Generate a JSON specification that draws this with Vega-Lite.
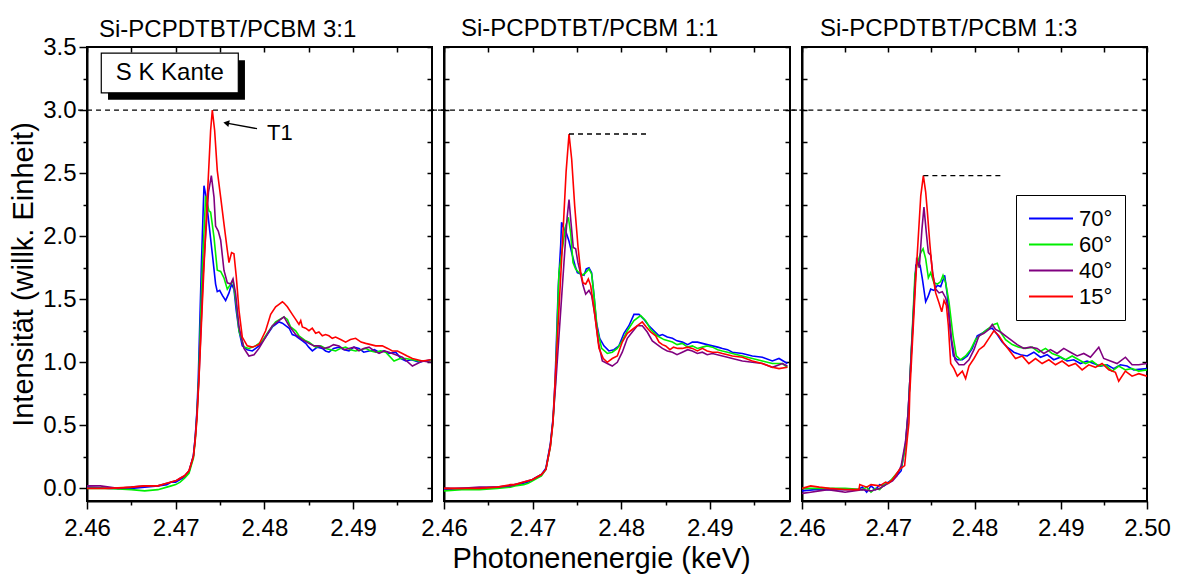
{
"$schema":"https://vega.github.io/schema/vega-lite/v6.json",
"background":"white",
"padding":{"left":8,"top":16,"right":5,"bottom":0},
"config":{
 "font":"Liberation Sans",
 "view":{"stroke":"black","strokeWidth":2},
 "axis":{"domainColor":"black","domainWidth":2,"tickColor":"black","tickWidth":1.5,"labelColor":"black","labelFontSize":24,"labelFont":"Liberation Sans","titleFont":"Liberation Sans","titleFontSize":29,"titleFontWeight":"normal","titleColor":"black","grid":false,"labelFlush":false,"labelOverlap":false,"labelPadding":7},
 "title":{"fontSize":24,"fontWeight":"normal","color":"black","font":"Liberation Sans","anchor":"start","frame":"group","offset":5}
},
"datasets":{
"refs":[
{"p":1,"x1":2.45899,"x2":2.50025,"y":3.0},
{"p":2,"x1":2.45865,"x2":2.50041,"y":3.0},
{"p":2,"x1":2.47411,"x2":2.48291,"y":2.81},
{"p":3,"x1":2.45865,"x2":2.5,"y":3.0},
{"p":3,"x1":2.47407,"x2":2.48322,"y":2.48}
],
"d":[
{"p":1,"s":"70°","x":2.46,"y":0.01},{"p":1,"s":"70°","x":2.4625,"y":0.0},{"p":1,"s":"70°","x":2.465,"y":0.0},{"p":1,"s":"70°","x":2.4665,"y":0.01},{"p":1,"s":"70°","x":2.468,"y":0.02},{"p":1,"s":"70°","x":2.469,"y":0.03},{"p":1,"s":"70°","x":2.4695,"y":0.05},{"p":1,"s":"70°","x":2.47,"y":0.05},{"p":1,"s":"70°","x":2.4705,"y":0.07},{"p":1,"s":"70°","x":2.471,"y":0.09},{"p":1,"s":"70°","x":2.4715,"y":0.13},{"p":1,"s":"70°","x":2.472,"y":0.26},{"p":1,"s":"70°","x":2.4722,"y":0.4},{"p":1,"s":"70°","x":2.4724,"y":0.62},{"p":1,"s":"70°","x":2.47255,"y":0.88},{"p":1,"s":"70°","x":2.4729,"y":1.78},{"p":1,"s":"70°","x":2.47319,"y":2.4},{"p":1,"s":"70°","x":2.47338,"y":2.33},{"p":1,"s":"70°","x":2.47375,"y":2.1},{"p":1,"s":"70°","x":2.47413,"y":1.86},{"p":1,"s":"70°","x":2.4745,"y":1.62},{"p":1,"s":"70°","x":2.47469,"y":1.56},{"p":1,"s":"70°","x":2.47496,"y":1.57},{"p":1,"s":"70°","x":2.47526,"y":1.53},{"p":1,"s":"70°","x":2.47563,"y":1.49},{"p":1,"s":"70°","x":2.47601,"y":1.55},{"p":1,"s":"70°","x":2.4763,"y":1.62},{"p":1,"s":"70°","x":2.47657,"y":1.58},{"p":1,"s":"70°","x":2.47683,"y":1.41},{"p":1,"s":"70°","x":2.47714,"y":1.25},{"p":1,"s":"70°","x":2.47751,"y":1.13},{"p":1,"s":"70°","x":2.47807,"y":1.1},{"p":1,"s":"70°","x":2.47864,"y":1.09},{"p":1,"s":"70°","x":2.47939,"y":1.13},{"p":1,"s":"70°","x":2.48014,"y":1.2},{"p":1,"s":"70°","x":2.4809,"y":1.28},{"p":1,"s":"70°","x":2.48165,"y":1.32},{"p":1,"s":"70°","x":2.48203,"y":1.31},{"p":1,"s":"70°","x":2.4824,"y":1.29},{"p":1,"s":"70°","x":2.4828,"y":1.27},{"p":1,"s":"70°","x":2.48315,"y":1.22},{"p":1,"s":"70°","x":2.48353,"y":1.21},{"p":1,"s":"70°","x":2.4839,"y":1.19},{"p":1,"s":"70°","x":2.4843,"y":1.17},{"p":1,"s":"70°","x":2.48466,"y":1.15},{"p":1,"s":"70°","x":2.485,"y":1.12},{"p":1,"s":"70°","x":2.48541,"y":1.09},{"p":1,"s":"70°","x":2.48597,"y":1.12},{"p":1,"s":"70°","x":2.48653,"y":1.11},{"p":1,"s":"70°","x":2.4869,"y":1.09},{"p":1,"s":"70°","x":2.48728,"y":1.08},{"p":1,"s":"70°","x":2.4878,"y":1.11},{"p":1,"s":"70°","x":2.48841,"y":1.12},{"p":1,"s":"70°","x":2.489,"y":1.1},{"p":1,"s":"70°","x":2.48954,"y":1.09},{"p":1,"s":"70°","x":2.4901,"y":1.12},{"p":1,"s":"70°","x":2.49067,"y":1.11},{"p":1,"s":"70°","x":2.4912,"y":1.08},{"p":1,"s":"70°","x":2.4918,"y":1.09},{"p":1,"s":"70°","x":2.4924,"y":1.1},{"p":1,"s":"70°","x":2.49293,"y":1.08},{"p":1,"s":"70°","x":2.4935,"y":1.09},{"p":1,"s":"70°","x":2.49406,"y":1.07},{"p":1,"s":"70°","x":2.49481,"y":1.08},{"p":1,"s":"70°","x":2.4954,"y":1.03},{"p":1,"s":"70°","x":2.49594,"y":1.01},{"p":1,"s":"70°","x":2.4966,"y":1.02},{"p":1,"s":"70°","x":2.49744,"y":1.0},{"p":1,"s":"70°","x":2.49876,"y":1.02},
{"p":1,"s":"60°","x":2.46,"y":0.0},{"p":1,"s":"60°","x":2.4625,"y":0.0},{"p":1,"s":"60°","x":2.465,"y":-0.01},{"p":1,"s":"60°","x":2.4665,"y":-0.02},{"p":1,"s":"60°","x":2.468,"y":-0.01},{"p":1,"s":"60°","x":2.469,"y":0.01},{"p":1,"s":"60°","x":2.4695,"y":0.02},{"p":1,"s":"60°","x":2.47,"y":0.03},{"p":1,"s":"60°","x":2.4705,"y":0.05},{"p":1,"s":"60°","x":2.471,"y":0.08},{"p":1,"s":"60°","x":2.4715,"y":0.12},{"p":1,"s":"60°","x":2.472,"y":0.24},{"p":1,"s":"60°","x":2.4722,"y":0.38},{"p":1,"s":"60°","x":2.4724,"y":0.58},{"p":1,"s":"60°","x":2.47258,"y":0.85},{"p":1,"s":"60°","x":2.473,"y":1.75},{"p":1,"s":"60°","x":2.47338,"y":2.32},{"p":1,"s":"60°","x":2.47375,"y":2.2},{"p":1,"s":"60°","x":2.47394,"y":2.19},{"p":1,"s":"60°","x":2.47432,"y":1.99},{"p":1,"s":"60°","x":2.47469,"y":1.73},{"p":1,"s":"60°","x":2.47507,"y":1.72},{"p":1,"s":"60°","x":2.47544,"y":1.67},{"p":1,"s":"60°","x":2.47582,"y":1.58},{"p":1,"s":"60°","x":2.4762,"y":1.62},{"p":1,"s":"60°","x":2.47646,"y":1.65},{"p":1,"s":"60°","x":2.47683,"y":1.46},{"p":1,"s":"60°","x":2.47714,"y":1.25},{"p":1,"s":"60°","x":2.4777,"y":1.12},{"p":1,"s":"60°","x":2.47826,"y":1.11},{"p":1,"s":"60°","x":2.47901,"y":1.13},{"p":1,"s":"60°","x":2.47977,"y":1.17},{"p":1,"s":"60°","x":2.48052,"y":1.25},{"p":1,"s":"60°","x":2.48127,"y":1.32},{"p":1,"s":"60°","x":2.48221,"y":1.36},{"p":1,"s":"60°","x":2.4826,"y":1.34},{"p":1,"s":"60°","x":2.48296,"y":1.28},{"p":1,"s":"60°","x":2.48353,"y":1.25},{"p":1,"s":"60°","x":2.4839,"y":1.21},{"p":1,"s":"60°","x":2.48466,"y":1.17},{"p":1,"s":"60°","x":2.48503,"y":1.16},{"p":1,"s":"60°","x":2.48578,"y":1.12},{"p":1,"s":"60°","x":2.48635,"y":1.13},{"p":1,"s":"60°","x":2.48691,"y":1.11},{"p":1,"s":"60°","x":2.4875,"y":1.1},{"p":1,"s":"60°","x":2.48803,"y":1.09},{"p":1,"s":"60°","x":2.4886,"y":1.11},{"p":1,"s":"60°","x":2.48916,"y":1.12},{"p":1,"s":"60°","x":2.4897,"y":1.1},{"p":1,"s":"60°","x":2.49029,"y":1.09},{"p":1,"s":"60°","x":2.4909,"y":1.1},{"p":1,"s":"60°","x":2.49142,"y":1.11},{"p":1,"s":"60°","x":2.492,"y":1.09},{"p":1,"s":"60°","x":2.49255,"y":1.08},{"p":1,"s":"60°","x":2.4931,"y":1.09},{"p":1,"s":"60°","x":2.49368,"y":1.08},{"p":1,"s":"60°","x":2.49462,"y":1.01},{"p":1,"s":"60°","x":2.4953,"y":1.03},{"p":1,"s":"60°","x":2.49594,"y":1.03},{"p":1,"s":"60°","x":2.4967,"y":1.02},{"p":1,"s":"60°","x":2.49744,"y":1.01},{"p":1,"s":"60°","x":2.49876,"y":1.01},
{"p":1,"s":"40°","x":2.46,"y":0.02},{"p":1,"s":"40°","x":2.4615,"y":0.02},{"p":1,"s":"40°","x":2.4635,"y":0.0},{"p":1,"s":"40°","x":2.465,"y":0.01},{"p":1,"s":"40°","x":2.4665,"y":0.02},{"p":1,"s":"40°","x":2.468,"y":0.02},{"p":1,"s":"40°","x":2.469,"y":0.04},{"p":1,"s":"40°","x":2.4695,"y":0.05},{"p":1,"s":"40°","x":2.47,"y":0.06},{"p":1,"s":"40°","x":2.4705,"y":0.08},{"p":1,"s":"40°","x":2.471,"y":0.1},{"p":1,"s":"40°","x":2.4715,"y":0.14},{"p":1,"s":"40°","x":2.472,"y":0.26},{"p":1,"s":"40°","x":2.4722,"y":0.4},{"p":1,"s":"40°","x":2.4724,"y":0.6},{"p":1,"s":"40°","x":2.47262,"y":0.87},{"p":1,"s":"40°","x":2.4731,"y":1.7},{"p":1,"s":"40°","x":2.4737,"y":2.35},{"p":1,"s":"40°","x":2.47402,"y":2.48},{"p":1,"s":"40°","x":2.47432,"y":2.31},{"p":1,"s":"40°","x":2.4745,"y":2.08},{"p":1,"s":"40°","x":2.4748,"y":2.04},{"p":1,"s":"40°","x":2.47507,"y":1.97},{"p":1,"s":"40°","x":2.47544,"y":1.73},{"p":1,"s":"40°","x":2.47582,"y":1.63},{"p":1,"s":"40°","x":2.4762,"y":1.62},{"p":1,"s":"40°","x":2.47646,"y":1.66},{"p":1,"s":"40°","x":2.47676,"y":1.54},{"p":1,"s":"40°","x":2.47714,"y":1.28},{"p":1,"s":"40°","x":2.4777,"y":1.11},{"p":1,"s":"40°","x":2.47826,"y":1.05},{"p":1,"s":"40°","x":2.47883,"y":1.06},{"p":1,"s":"40°","x":2.47939,"y":1.11},{"p":1,"s":"40°","x":2.48014,"y":1.2},{"p":1,"s":"40°","x":2.4809,"y":1.29},{"p":1,"s":"40°","x":2.48165,"y":1.33},{"p":1,"s":"40°","x":2.48221,"y":1.36},{"p":1,"s":"40°","x":2.48278,"y":1.29},{"p":1,"s":"40°","x":2.48353,"y":1.22},{"p":1,"s":"40°","x":2.4839,"y":1.2},{"p":1,"s":"40°","x":2.48428,"y":1.18},{"p":1,"s":"40°","x":2.48503,"y":1.15},{"p":1,"s":"40°","x":2.4856,"y":1.13},{"p":1,"s":"40°","x":2.48616,"y":1.13},{"p":1,"s":"40°","x":2.4867,"y":1.11},{"p":1,"s":"40°","x":2.48728,"y":1.12},{"p":1,"s":"40°","x":2.4878,"y":1.14},{"p":1,"s":"40°","x":2.48841,"y":1.13},{"p":1,"s":"40°","x":2.489,"y":1.1},{"p":1,"s":"40°","x":2.48954,"y":1.11},{"p":1,"s":"40°","x":2.4901,"y":1.12},{"p":1,"s":"40°","x":2.49067,"y":1.09},{"p":1,"s":"40°","x":2.4912,"y":1.11},{"p":1,"s":"40°","x":2.4918,"y":1.12},{"p":1,"s":"40°","x":2.4924,"y":1.09},{"p":1,"s":"40°","x":2.49293,"y":1.07},{"p":1,"s":"40°","x":2.4935,"y":1.09},{"p":1,"s":"40°","x":2.49406,"y":1.08},{"p":1,"s":"40°","x":2.4948,"y":1.06},{"p":1,"s":"40°","x":2.49556,"y":1.04},{"p":1,"s":"40°","x":2.49669,"y":0.97},{"p":1,"s":"40°","x":2.49782,"y":1.01},{"p":1,"s":"40°","x":2.49876,"y":1.0},
{"p":1,"s":"15°","x":2.46,"y":0.0},{"p":1,"s":"15°","x":2.4625,"y":0.0},{"p":1,"s":"15°","x":2.465,"y":0.01},{"p":1,"s":"15°","x":2.4665,"y":0.02},{"p":1,"s":"15°","x":2.468,"y":0.02},{"p":1,"s":"15°","x":2.469,"y":0.04},{"p":1,"s":"15°","x":2.4695,"y":0.05},{"p":1,"s":"15°","x":2.47,"y":0.06},{"p":1,"s":"15°","x":2.4705,"y":0.08},{"p":1,"s":"15°","x":2.471,"y":0.1},{"p":1,"s":"15°","x":2.4715,"y":0.14},{"p":1,"s":"15°","x":2.472,"y":0.25},{"p":1,"s":"15°","x":2.4722,"y":0.38},{"p":1,"s":"15°","x":2.4724,"y":0.55},{"p":1,"s":"15°","x":2.47263,"y":0.88},{"p":1,"s":"15°","x":2.47331,"y":1.94},{"p":1,"s":"15°","x":2.47394,"y":2.84},{"p":1,"s":"15°","x":2.47413,"y":3.0},{"p":1,"s":"15°","x":2.47439,"y":2.84},{"p":1,"s":"15°","x":2.47469,"y":2.52},{"p":1,"s":"15°","x":2.47507,"y":2.31},{"p":1,"s":"15°","x":2.47544,"y":2.1},{"p":1,"s":"15°","x":2.47582,"y":1.89},{"p":1,"s":"15°","x":2.47601,"y":1.79},{"p":1,"s":"15°","x":2.4763,"y":1.87},{"p":1,"s":"15°","x":2.47657,"y":1.86},{"p":1,"s":"15°","x":2.47683,"y":1.68},{"p":1,"s":"15°","x":2.47714,"y":1.41},{"p":1,"s":"15°","x":2.47751,"y":1.2},{"p":1,"s":"15°","x":2.47807,"y":1.13},{"p":1,"s":"15°","x":2.47864,"y":1.12},{"p":1,"s":"15°","x":2.47939,"y":1.14},{"p":1,"s":"15°","x":2.48014,"y":1.25},{"p":1,"s":"15°","x":2.48071,"y":1.38},{"p":1,"s":"15°","x":2.48127,"y":1.44},{"p":1,"s":"15°","x":2.48165,"y":1.46},{"p":1,"s":"15°","x":2.48203,"y":1.48},{"p":1,"s":"15°","x":2.48221,"y":1.47},{"p":1,"s":"15°","x":2.48259,"y":1.44},{"p":1,"s":"15°","x":2.48315,"y":1.38},{"p":1,"s":"15°","x":2.48353,"y":1.34},{"p":1,"s":"15°","x":2.4839,"y":1.3},{"p":1,"s":"15°","x":2.4841,"y":1.33},{"p":1,"s":"15°","x":2.48428,"y":1.28},{"p":1,"s":"15°","x":2.48465,"y":1.27},{"p":1,"s":"15°","x":2.48503,"y":1.25},{"p":1,"s":"15°","x":2.4854,"y":1.27},{"p":1,"s":"15°","x":2.48578,"y":1.23},{"p":1,"s":"15°","x":2.48615,"y":1.24},{"p":1,"s":"15°","x":2.48653,"y":1.21},{"p":1,"s":"15°","x":2.4869,"y":1.22},{"p":1,"s":"15°","x":2.48728,"y":1.21},{"p":1,"s":"15°","x":2.48765,"y":1.19},{"p":1,"s":"15°","x":2.48803,"y":1.2},{"p":1,"s":"15°","x":2.4886,"y":1.18},{"p":1,"s":"15°","x":2.48916,"y":1.16},{"p":1,"s":"15°","x":2.4897,"y":1.18},{"p":1,"s":"15°","x":2.49029,"y":1.19},{"p":1,"s":"15°","x":2.4909,"y":1.16},{"p":1,"s":"15°","x":2.49142,"y":1.15},{"p":1,"s":"15°","x":2.492,"y":1.14},{"p":1,"s":"15°","x":2.49255,"y":1.13},{"p":1,"s":"15°","x":2.4933,"y":1.13},{"p":1,"s":"15°","x":2.4939,"y":1.11},{"p":1,"s":"15°","x":2.49443,"y":1.09},{"p":1,"s":"15°","x":2.495,"y":1.09},{"p":1,"s":"15°","x":2.49556,"y":1.07},{"p":1,"s":"15°","x":2.4961,"y":1.05},{"p":1,"s":"15°","x":2.49669,"y":1.03},{"p":1,"s":"15°","x":2.49782,"y":1.01},{"p":1,"s":"15°","x":2.49876,"y":1.02},
{"p":2,"s":"70°","x":2.46,"y":-0.01},{"p":2,"s":"70°","x":2.462,"y":0.0},{"p":2,"s":"70°","x":2.464,"y":0.0},{"p":2,"s":"70°","x":2.466,"y":0.01},{"p":2,"s":"70°","x":2.4675,"y":0.02},{"p":2,"s":"70°","x":2.468,"y":0.03},{"p":2,"s":"70°","x":2.4685,"y":0.03},{"p":2,"s":"70°","x":2.469,"y":0.04},{"p":2,"s":"70°","x":2.4695,"y":0.05},{"p":2,"s":"70°","x":2.47,"y":0.07},{"p":2,"s":"70°","x":2.4705,"y":0.09},{"p":2,"s":"70°","x":2.471,"y":0.11},{"p":2,"s":"70°","x":2.4715,"y":0.16},{"p":2,"s":"70°","x":2.472,"y":0.35},{"p":2,"s":"70°","x":2.4723,"y":0.55},{"p":2,"s":"70°","x":2.47253,"y":0.84},{"p":2,"s":"70°","x":2.4729,"y":1.6},{"p":2,"s":"70°","x":2.47317,"y":1.93},{"p":2,"s":"70°","x":2.47327,"y":2.11},{"p":2,"s":"70°","x":2.47354,"y":2.06},{"p":2,"s":"70°","x":2.47378,"y":2.03},{"p":2,"s":"70°","x":2.47411,"y":1.96},{"p":2,"s":"70°","x":2.47448,"y":1.85},{"p":2,"s":"70°","x":2.47478,"y":1.77},{"p":2,"s":"70°","x":2.47505,"y":1.71},{"p":2,"s":"70°","x":2.47543,"y":1.7},{"p":2,"s":"70°","x":2.4758,"y":1.69},{"p":2,"s":"70°","x":2.47606,"y":1.74},{"p":2,"s":"70°","x":2.47636,"y":1.75},{"p":2,"s":"70°","x":2.47666,"y":1.71},{"p":2,"s":"70°","x":2.47693,"y":1.53},{"p":2,"s":"70°","x":2.47719,"y":1.32},{"p":2,"s":"70°","x":2.47757,"y":1.19},{"p":2,"s":"70°","x":2.47805,"y":1.13},{"p":2,"s":"70°","x":2.47861,"y":1.09},{"p":2,"s":"70°","x":2.47918,"y":1.1},{"p":2,"s":"70°","x":2.47974,"y":1.13},{"p":2,"s":"70°","x":2.48031,"y":1.23},{"p":2,"s":"70°","x":2.48087,"y":1.29},{"p":2,"s":"70°","x":2.48144,"y":1.38},{"p":2,"s":"70°","x":2.482,"y":1.38},{"p":2,"s":"70°","x":2.48257,"y":1.34},{"p":2,"s":"70°","x":2.48313,"y":1.29},{"p":2,"s":"70°","x":2.48369,"y":1.25},{"p":2,"s":"70°","x":2.48427,"y":1.21},{"p":2,"s":"70°","x":2.48465,"y":1.22},{"p":2,"s":"70°","x":2.4852,"y":1.2},{"p":2,"s":"70°","x":2.48578,"y":1.19},{"p":2,"s":"70°","x":2.4863,"y":1.17},{"p":2,"s":"70°","x":2.4869,"y":1.16},{"p":2,"s":"70°","x":2.4875,"y":1.14},{"p":2,"s":"70°","x":2.48803,"y":1.16},{"p":2,"s":"70°","x":2.4886,"y":1.16},{"p":2,"s":"70°","x":2.48916,"y":1.15},{"p":2,"s":"70°","x":2.4897,"y":1.14},{"p":2,"s":"70°","x":2.49029,"y":1.13},{"p":2,"s":"70°","x":2.4909,"y":1.12},{"p":2,"s":"70°","x":2.49142,"y":1.11},{"p":2,"s":"70°","x":2.492,"y":1.1},{"p":2,"s":"70°","x":2.49254,"y":1.08},{"p":2,"s":"70°","x":2.49367,"y":1.07},{"p":2,"s":"70°","x":2.4948,"y":1.05},{"p":2,"s":"70°","x":2.49593,"y":1.04},{"p":2,"s":"70°","x":2.49706,"y":1.01},{"p":2,"s":"70°","x":2.49781,"y":1.03},{"p":2,"s":"70°","x":2.49876,"y":0.99},
{"p":2,"s":"60°","x":2.46,"y":-0.02},{"p":2,"s":"60°","x":2.462,"y":-0.01},{"p":2,"s":"60°","x":2.464,"y":-0.01},{"p":2,"s":"60°","x":2.466,"y":0.0},{"p":2,"s":"60°","x":2.4675,"y":0.01},{"p":2,"s":"60°","x":2.468,"y":0.02},{"p":2,"s":"60°","x":2.469,"y":0.03},{"p":2,"s":"60°","x":2.4695,"y":0.04},{"p":2,"s":"60°","x":2.47,"y":0.06},{"p":2,"s":"60°","x":2.4705,"y":0.08},{"p":2,"s":"60°","x":2.471,"y":0.1},{"p":2,"s":"60°","x":2.4715,"y":0.15},{"p":2,"s":"60°","x":2.472,"y":0.33},{"p":2,"s":"60°","x":2.4723,"y":0.53},{"p":2,"s":"60°","x":2.47258,"y":0.84},{"p":2,"s":"60°","x":2.47297,"y":1.71},{"p":2,"s":"60°","x":2.47373,"y":2.08},{"p":2,"s":"60°","x":2.47403,"y":2.15},{"p":2,"s":"60°","x":2.47429,"y":2.03},{"p":2,"s":"60°","x":2.47456,"y":1.79},{"p":2,"s":"60°","x":2.47486,"y":1.74},{"p":2,"s":"60°","x":2.47524,"y":1.71},{"p":2,"s":"60°","x":2.47561,"y":1.69},{"p":2,"s":"60°","x":2.47599,"y":1.71},{"p":2,"s":"60°","x":2.47636,"y":1.74},{"p":2,"s":"60°","x":2.47666,"y":1.7},{"p":2,"s":"60°","x":2.47693,"y":1.53},{"p":2,"s":"60°","x":2.4773,"y":1.26},{"p":2,"s":"60°","x":2.47779,"y":1.11},{"p":2,"s":"60°","x":2.47843,"y":1.07},{"p":2,"s":"60°","x":2.47899,"y":1.08},{"p":2,"s":"60°","x":2.47956,"y":1.11},{"p":2,"s":"60°","x":2.48012,"y":1.17},{"p":2,"s":"60°","x":2.48069,"y":1.25},{"p":2,"s":"60°","x":2.48144,"y":1.33},{"p":2,"s":"60°","x":2.48219,"y":1.37},{"p":2,"s":"60°","x":2.48276,"y":1.33},{"p":2,"s":"60°","x":2.48332,"y":1.26},{"p":2,"s":"60°","x":2.48407,"y":1.21},{"p":2,"s":"60°","x":2.48482,"y":1.18},{"p":2,"s":"60°","x":2.4853,"y":1.17},{"p":2,"s":"60°","x":2.48578,"y":1.16},{"p":2,"s":"60°","x":2.4863,"y":1.14},{"p":2,"s":"60°","x":2.4869,"y":1.15},{"p":2,"s":"60°","x":2.4875,"y":1.12},{"p":2,"s":"60°","x":2.48803,"y":1.13},{"p":2,"s":"60°","x":2.4886,"y":1.11},{"p":2,"s":"60°","x":2.48916,"y":1.12},{"p":2,"s":"60°","x":2.4897,"y":1.13},{"p":2,"s":"60°","x":2.49029,"y":1.12},{"p":2,"s":"60°","x":2.4909,"y":1.1},{"p":2,"s":"60°","x":2.49142,"y":1.09},{"p":2,"s":"60°","x":2.492,"y":1.08},{"p":2,"s":"60°","x":2.49254,"y":1.07},{"p":2,"s":"60°","x":2.4931,"y":1.06},{"p":2,"s":"60°","x":2.49367,"y":1.05},{"p":2,"s":"60°","x":2.4948,"y":1.03},{"p":2,"s":"60°","x":2.49593,"y":1.01},{"p":2,"s":"60°","x":2.49706,"y":0.99},{"p":2,"s":"60°","x":2.49819,"y":0.99},{"p":2,"s":"60°","x":2.49876,"y":0.96},
{"p":2,"s":"40°","x":2.46,"y":0.0},{"p":2,"s":"40°","x":2.462,"y":0.0},{"p":2,"s":"40°","x":2.464,"y":0.01},{"p":2,"s":"40°","x":2.466,"y":0.01},{"p":2,"s":"40°","x":2.4675,"y":0.02},{"p":2,"s":"40°","x":2.468,"y":0.03},{"p":2,"s":"40°","x":2.469,"y":0.05},{"p":2,"s":"40°","x":2.4695,"y":0.06},{"p":2,"s":"40°","x":2.47,"y":0.07},{"p":2,"s":"40°","x":2.4705,"y":0.09},{"p":2,"s":"40°","x":2.471,"y":0.11},{"p":2,"s":"40°","x":2.4715,"y":0.15},{"p":2,"s":"40°","x":2.472,"y":0.34},{"p":2,"s":"40°","x":2.4723,"y":0.54},{"p":2,"s":"40°","x":2.47262,"y":0.84},{"p":2,"s":"40°","x":2.47354,"y":1.79},{"p":2,"s":"40°","x":2.4739,"y":2.15},{"p":2,"s":"40°","x":2.47411,"y":2.29},{"p":2,"s":"40°","x":2.47433,"y":2.11},{"p":2,"s":"40°","x":2.47459,"y":1.91},{"p":2,"s":"40°","x":2.47486,"y":1.9},{"p":2,"s":"40°","x":2.47512,"y":1.79},{"p":2,"s":"40°","x":2.47543,"y":1.7},{"p":2,"s":"40°","x":2.47569,"y":1.61},{"p":2,"s":"40°","x":2.47599,"y":1.54},{"p":2,"s":"40°","x":2.47636,"y":1.57},{"p":2,"s":"40°","x":2.47666,"y":1.53},{"p":2,"s":"40°","x":2.47704,"y":1.37},{"p":2,"s":"40°","x":2.47742,"y":1.16},{"p":2,"s":"40°","x":2.47787,"y":1.01},{"p":2,"s":"40°","x":2.47843,"y":0.99},{"p":2,"s":"40°","x":2.47899,"y":0.97},{"p":2,"s":"40°","x":2.47956,"y":1.0},{"p":2,"s":"40°","x":2.48012,"y":1.08},{"p":2,"s":"40°","x":2.48069,"y":1.19},{"p":2,"s":"40°","x":2.48125,"y":1.24},{"p":2,"s":"40°","x":2.48182,"y":1.29},{"p":2,"s":"40°","x":2.48238,"y":1.29},{"p":2,"s":"40°","x":2.48294,"y":1.24},{"p":2,"s":"40°","x":2.48351,"y":1.17},{"p":2,"s":"40°","x":2.48426,"y":1.13},{"p":2,"s":"40°","x":2.48465,"y":1.11},{"p":2,"s":"40°","x":2.4852,"y":1.09},{"p":2,"s":"40°","x":2.48578,"y":1.08},{"p":2,"s":"40°","x":2.4863,"y":1.06},{"p":2,"s":"40°","x":2.4869,"y":1.08},{"p":2,"s":"40°","x":2.4875,"y":1.1},{"p":2,"s":"40°","x":2.48803,"y":1.09},{"p":2,"s":"40°","x":2.4886,"y":1.07},{"p":2,"s":"40°","x":2.48916,"y":1.08},{"p":2,"s":"40°","x":2.4897,"y":1.06},{"p":2,"s":"40°","x":2.49029,"y":1.07},{"p":2,"s":"40°","x":2.49142,"y":1.05},{"p":2,"s":"40°","x":2.492,"y":1.04},{"p":2,"s":"40°","x":2.49254,"y":1.03},{"p":2,"s":"40°","x":2.49367,"y":1.01},{"p":2,"s":"40°","x":2.4948,"y":1.0},{"p":2,"s":"40°","x":2.49593,"y":0.99},{"p":2,"s":"40°","x":2.49706,"y":0.96},{"p":2,"s":"40°","x":2.49819,"y":0.99},{"p":2,"s":"40°","x":2.49876,"y":0.97},
{"p":2,"s":"15°","x":2.46,"y":0.0},{"p":2,"s":"15°","x":2.462,"y":0.0},{"p":2,"s":"15°","x":2.464,"y":0.0},{"p":2,"s":"15°","x":2.466,"y":0.01},{"p":2,"s":"15°","x":2.4675,"y":0.03},{"p":2,"s":"15°","x":2.468,"y":0.03},{"p":2,"s":"15°","x":2.469,"y":0.05},{"p":2,"s":"15°","x":2.4695,"y":0.06},{"p":2,"s":"15°","x":2.47,"y":0.07},{"p":2,"s":"15°","x":2.4705,"y":0.09},{"p":2,"s":"15°","x":2.471,"y":0.11},{"p":2,"s":"15°","x":2.4715,"y":0.15},{"p":2,"s":"15°","x":2.472,"y":0.33},{"p":2,"s":"15°","x":2.4723,"y":0.52},{"p":2,"s":"15°","x":2.47253,"y":0.84},{"p":2,"s":"15°","x":2.4733,"y":1.85},{"p":2,"s":"15°","x":2.47378,"y":2.51},{"p":2,"s":"15°","x":2.47411,"y":2.81},{"p":2,"s":"15°","x":2.47441,"y":2.61},{"p":2,"s":"15°","x":2.47475,"y":2.24},{"p":2,"s":"15°","x":2.47512,"y":1.92},{"p":2,"s":"15°","x":2.47543,"y":1.71},{"p":2,"s":"15°","x":2.47569,"y":1.63},{"p":2,"s":"15°","x":2.47599,"y":1.62},{"p":2,"s":"15°","x":2.47629,"y":1.66},{"p":2,"s":"15°","x":2.47655,"y":1.61},{"p":2,"s":"15°","x":2.47682,"y":1.48},{"p":2,"s":"15°","x":2.47712,"y":1.32},{"p":2,"s":"15°","x":2.47749,"y":1.11},{"p":2,"s":"15°","x":2.47798,"y":1.03},{"p":2,"s":"15°","x":2.47843,"y":1.0},{"p":2,"s":"15°","x":2.47899,"y":1.03},{"p":2,"s":"15°","x":2.47956,"y":1.05},{"p":2,"s":"15°","x":2.48012,"y":1.16},{"p":2,"s":"15°","x":2.48069,"y":1.23},{"p":2,"s":"15°","x":2.48125,"y":1.26},{"p":2,"s":"15°","x":2.48182,"y":1.29},{"p":2,"s":"15°","x":2.48238,"y":1.32},{"p":2,"s":"15°","x":2.48283,"y":1.28},{"p":2,"s":"15°","x":2.48332,"y":1.24},{"p":2,"s":"15°","x":2.48389,"y":1.21},{"p":2,"s":"15°","x":2.48427,"y":1.16},{"p":2,"s":"15°","x":2.48465,"y":1.14},{"p":2,"s":"15°","x":2.48502,"y":1.13},{"p":2,"s":"15°","x":2.4855,"y":1.1},{"p":2,"s":"15°","x":2.4859,"y":1.12},{"p":2,"s":"15°","x":2.4864,"y":1.11},{"p":2,"s":"15°","x":2.4869,"y":1.11},{"p":2,"s":"15°","x":2.4875,"y":1.12},{"p":2,"s":"15°","x":2.48803,"y":1.11},{"p":2,"s":"15°","x":2.4886,"y":1.09},{"p":2,"s":"15°","x":2.48916,"y":1.11},{"p":2,"s":"15°","x":2.4897,"y":1.09},{"p":2,"s":"15°","x":2.49029,"y":1.08},{"p":2,"s":"15°","x":2.4909,"y":1.08},{"p":2,"s":"15°","x":2.49142,"y":1.07},{"p":2,"s":"15°","x":2.492,"y":1.06},{"p":2,"s":"15°","x":2.49254,"y":1.05},{"p":2,"s":"15°","x":2.49367,"y":1.04},{"p":2,"s":"15°","x":2.4948,"y":1.01},{"p":2,"s":"15°","x":2.49593,"y":0.99},{"p":2,"s":"15°","x":2.49706,"y":0.96},{"p":2,"s":"15°","x":2.49781,"y":0.95},{"p":2,"s":"15°","x":2.49876,"y":0.96},
{"p":3,"s":"70°","x":2.46,"y":-0.02},{"p":3,"s":"70°","x":2.4615,"y":-0.01},{"p":3,"s":"70°","x":2.463,"y":-0.01},{"p":3,"s":"70°","x":2.465,"y":-0.01},{"p":3,"s":"70°","x":2.4665,"y":-0.01},{"p":3,"s":"70°","x":2.467,"y":0.01},{"p":3,"s":"70°","x":2.4675,"y":-0.03},{"p":3,"s":"70°","x":2.468,"y":0.02},{"p":3,"s":"70°","x":2.4685,"y":-0.01},{"p":3,"s":"70°","x":2.469,"y":0.03},{"p":3,"s":"70°","x":2.4695,"y":0.02},{"p":3,"s":"70°","x":2.47,"y":0.05},{"p":3,"s":"70°","x":2.4705,"y":0.07},{"p":3,"s":"70°","x":2.471,"y":0.1},{"p":3,"s":"70°","x":2.4715,"y":0.14},{"p":3,"s":"70°","x":2.472,"y":0.35},{"p":3,"s":"70°","x":2.4723,"y":0.6},{"p":3,"s":"70°","x":2.4725,"y":0.85},{"p":3,"s":"70°","x":2.4732,"y":1.77},{"p":3,"s":"70°","x":2.47338,"y":1.78},{"p":3,"s":"70°","x":2.47369,"y":1.77},{"p":3,"s":"70°","x":2.47396,"y":1.66},{"p":3,"s":"70°","x":2.47434,"y":1.48},{"p":3,"s":"70°","x":2.47461,"y":1.52},{"p":3,"s":"70°","x":2.47492,"y":1.58},{"p":3,"s":"70°","x":2.4753,"y":1.57},{"p":3,"s":"70°","x":2.47569,"y":1.61},{"p":3,"s":"70°","x":2.47608,"y":1.6},{"p":3,"s":"70°","x":2.47654,"y":1.69},{"p":3,"s":"70°","x":2.47685,"y":1.53},{"p":3,"s":"70°","x":2.47724,"y":1.21},{"p":3,"s":"70°","x":2.47755,"y":1.05},{"p":3,"s":"70°","x":2.47801,"y":1.02},{"p":3,"s":"70°","x":2.47859,"y":1.02},{"p":3,"s":"70°","x":2.47917,"y":1.05},{"p":3,"s":"70°","x":2.47974,"y":1.11},{"p":3,"s":"70°","x":2.48032,"y":1.21},{"p":3,"s":"70°","x":2.4809,"y":1.23},{"p":3,"s":"70°","x":2.48148,"y":1.26},{"p":3,"s":"70°","x":2.48206,"y":1.27},{"p":3,"s":"70°","x":2.48264,"y":1.22},{"p":3,"s":"70°","x":2.48321,"y":1.16},{"p":3,"s":"70°","x":2.48379,"y":1.12},{"p":3,"s":"70°","x":2.48456,"y":1.08},{"p":3,"s":"70°","x":2.48533,"y":1.06},{"p":3,"s":"70°","x":2.48611,"y":1.05},{"p":3,"s":"70°","x":2.48688,"y":1.08},{"p":3,"s":"70°","x":2.48765,"y":1.04},{"p":3,"s":"70°","x":2.48842,"y":1.06},{"p":3,"s":"70°","x":2.48919,"y":1.02},{"p":3,"s":"70°","x":2.48996,"y":1.04},{"p":3,"s":"70°","x":2.49074,"y":1.01},{"p":3,"s":"70°","x":2.49151,"y":1.02},{"p":3,"s":"70°","x":2.49228,"y":0.99},{"p":3,"s":"70°","x":2.49305,"y":1.01},{"p":3,"s":"70°","x":2.49382,"y":0.99},{"p":3,"s":"70°","x":2.49459,"y":0.97},{"p":3,"s":"70°","x":2.49537,"y":0.98},{"p":3,"s":"70°","x":2.49614,"y":0.95},{"p":3,"s":"70°","x":2.49691,"y":0.98},{"p":3,"s":"70°","x":2.49768,"y":0.97},{"p":3,"s":"70°","x":2.49846,"y":0.94},{"p":3,"s":"70°","x":2.5,"y":0.95},
{"p":3,"s":"60°","x":2.46,"y":0.0},{"p":3,"s":"60°","x":2.4615,"y":0.0},{"p":3,"s":"60°","x":2.463,"y":0.0},{"p":3,"s":"60°","x":2.465,"y":0.0},{"p":3,"s":"60°","x":2.467,"y":-0.01},{"p":3,"s":"60°","x":2.4675,"y":0.01},{"p":3,"s":"60°","x":2.468,"y":-0.03},{"p":3,"s":"60°","x":2.4685,"y":0.0},{"p":3,"s":"60°","x":2.469,"y":-0.01},{"p":3,"s":"60°","x":2.4695,"y":0.03},{"p":3,"s":"60°","x":2.47,"y":0.04},{"p":3,"s":"60°","x":2.4705,"y":0.08},{"p":3,"s":"60°","x":2.471,"y":0.12},{"p":3,"s":"60°","x":2.4715,"y":0.16},{"p":3,"s":"60°","x":2.472,"y":0.33},{"p":3,"s":"60°","x":2.4723,"y":0.58},{"p":3,"s":"60°","x":2.4725,"y":0.85},{"p":3,"s":"60°","x":2.4731,"y":1.7},{"p":3,"s":"60°","x":2.4734,"y":1.79},{"p":3,"s":"60°","x":2.47377,"y":1.87},{"p":3,"s":"60°","x":2.47404,"y":1.9},{"p":3,"s":"60°","x":2.47434,"y":1.82},{"p":3,"s":"60°","x":2.47465,"y":1.67},{"p":3,"s":"60°","x":2.47492,"y":1.71},{"p":3,"s":"60°","x":2.4753,"y":1.63},{"p":3,"s":"60°","x":2.47569,"y":1.62},{"p":3,"s":"60°","x":2.47608,"y":1.64},{"p":3,"s":"60°","x":2.47635,"y":1.69},{"p":3,"s":"60°","x":2.47666,"y":1.63},{"p":3,"s":"60°","x":2.47704,"y":1.48},{"p":3,"s":"60°","x":2.47751,"y":1.21},{"p":3,"s":"60°","x":2.47789,"y":1.05},{"p":3,"s":"60°","x":2.47839,"y":1.02},{"p":3,"s":"60°","x":2.47897,"y":1.05},{"p":3,"s":"60°","x":2.47955,"y":1.1},{"p":3,"s":"60°","x":2.48013,"y":1.18},{"p":3,"s":"60°","x":2.4809,"y":1.23},{"p":3,"s":"60°","x":2.48167,"y":1.27},{"p":3,"s":"60°","x":2.48225,"y":1.3},{"p":3,"s":"60°","x":2.48264,"y":1.31},{"p":3,"s":"60°","x":2.48302,"y":1.24},{"p":3,"s":"60°","x":2.4836,"y":1.18},{"p":3,"s":"60°","x":2.48437,"y":1.14},{"p":3,"s":"60°","x":2.48514,"y":1.12},{"p":3,"s":"60°","x":2.48592,"y":1.11},{"p":3,"s":"60°","x":2.48669,"y":1.12},{"p":3,"s":"60°","x":2.48746,"y":1.08},{"p":3,"s":"60°","x":2.48823,"y":1.11},{"p":3,"s":"60°","x":2.489,"y":1.07},{"p":3,"s":"60°","x":2.48978,"y":1.05},{"p":3,"s":"60°","x":2.49055,"y":1.02},{"p":3,"s":"60°","x":2.49132,"y":1.05},{"p":3,"s":"60°","x":2.49209,"y":1.02},{"p":3,"s":"60°","x":2.49286,"y":0.99},{"p":3,"s":"60°","x":2.49363,"y":1.01},{"p":3,"s":"60°","x":2.49441,"y":0.97},{"p":3,"s":"60°","x":2.49518,"y":0.98},{"p":3,"s":"60°","x":2.49595,"y":0.93},{"p":3,"s":"60°","x":2.49672,"y":0.97},{"p":3,"s":"60°","x":2.4975,"y":0.94},{"p":3,"s":"60°","x":2.49827,"y":0.95},{"p":3,"s":"60°","x":2.49904,"y":0.93},{"p":3,"s":"60°","x":2.5,"y":0.94},
{"p":3,"s":"40°","x":2.46,"y":-0.04},{"p":3,"s":"40°","x":2.461,"y":-0.03},{"p":3,"s":"40°","x":2.462,"y":-0.02},{"p":3,"s":"40°","x":2.463,"y":-0.01},{"p":3,"s":"40°","x":2.464,"y":-0.02},{"p":3,"s":"40°","x":2.465,"y":-0.03},{"p":3,"s":"40°","x":2.466,"y":-0.02},{"p":3,"s":"40°","x":2.467,"y":-0.01},{"p":3,"s":"40°","x":2.468,"y":-0.02},{"p":3,"s":"40°","x":2.469,"y":0.0},{"p":3,"s":"40°","x":2.4695,"y":0.02},{"p":3,"s":"40°","x":2.47,"y":0.04},{"p":3,"s":"40°","x":2.4705,"y":0.06},{"p":3,"s":"40°","x":2.471,"y":0.1},{"p":3,"s":"40°","x":2.4715,"y":0.18},{"p":3,"s":"40°","x":2.472,"y":0.37},{"p":3,"s":"40°","x":2.4723,"y":0.6},{"p":3,"s":"40°","x":2.4725,"y":0.85},{"p":3,"s":"40°","x":2.4731,"y":1.6},{"p":3,"s":"40°","x":2.4733,"y":1.83},{"p":3,"s":"40°","x":2.4736,"y":1.75},{"p":3,"s":"40°","x":2.4739,"y":2.05},{"p":3,"s":"40°","x":2.47414,"y":2.23},{"p":3,"s":"40°","x":2.47441,"y":2.03},{"p":3,"s":"40°","x":2.47465,"y":1.87},{"p":3,"s":"40°","x":2.47492,"y":1.85},{"p":3,"s":"40°","x":2.47519,"y":1.69},{"p":3,"s":"40°","x":2.4755,"y":1.58},{"p":3,"s":"40°","x":2.47589,"y":1.55},{"p":3,"s":"40°","x":2.47627,"y":1.56},{"p":3,"s":"40°","x":2.47666,"y":1.51},{"p":3,"s":"40°","x":2.47697,"y":1.42},{"p":3,"s":"40°","x":2.47735,"y":1.18},{"p":3,"s":"40°","x":2.47774,"y":1.02},{"p":3,"s":"40°","x":2.4782,"y":0.98},{"p":3,"s":"40°","x":2.47878,"y":0.98},{"p":3,"s":"40°","x":2.47936,"y":1.02},{"p":3,"s":"40°","x":2.47994,"y":1.1},{"p":3,"s":"40°","x":2.48052,"y":1.21},{"p":3,"s":"40°","x":2.48109,"y":1.23},{"p":3,"s":"40°","x":2.48167,"y":1.26},{"p":3,"s":"40°","x":2.48206,"y":1.3},{"p":3,"s":"40°","x":2.48244,"y":1.26},{"p":3,"s":"40°","x":2.48302,"y":1.24},{"p":3,"s":"40°","x":2.4836,"y":1.21},{"p":3,"s":"40°","x":2.48418,"y":1.18},{"p":3,"s":"40°","x":2.48495,"y":1.14},{"p":3,"s":"40°","x":2.48572,"y":1.11},{"p":3,"s":"40°","x":2.48649,"y":1.12},{"p":3,"s":"40°","x":2.48726,"y":1.11},{"p":3,"s":"40°","x":2.48804,"y":1.07},{"p":3,"s":"40°","x":2.48881,"y":1.1},{"p":3,"s":"40°","x":2.48958,"y":1.07},{"p":3,"s":"40°","x":2.49035,"y":1.11},{"p":3,"s":"40°","x":2.49112,"y":1.08},{"p":3,"s":"40°","x":2.4919,"y":1.05},{"p":3,"s":"40°","x":2.49267,"y":1.07},{"p":3,"s":"40°","x":2.49344,"y":1.04},{"p":3,"s":"40°","x":2.49441,"y":1.12},{"p":3,"s":"40°","x":2.49498,"y":1.03},{"p":3,"s":"40°","x":2.49576,"y":1.01},{"p":3,"s":"40°","x":2.49653,"y":0.99},{"p":3,"s":"40°","x":2.4975,"y":1.04},{"p":3,"s":"40°","x":2.49827,"y":0.98},{"p":3,"s":"40°","x":2.49904,"y":0.98},{"p":3,"s":"40°","x":2.5,"y":0.99},
{"p":3,"s":"15°","x":2.46,"y":0.0},{"p":3,"s":"15°","x":2.461,"y":0.02},{"p":3,"s":"15°","x":2.462,"y":0.01},{"p":3,"s":"15°","x":2.4632,"y":0.0},{"p":3,"s":"15°","x":2.465,"y":-0.01},{"p":3,"s":"15°","x":2.4666,"y":-0.01},{"p":3,"s":"15°","x":2.4667,"y":0.03},{"p":3,"s":"15°","x":2.4675,"y":0.01},{"p":3,"s":"15°","x":2.468,"y":0.03},{"p":3,"s":"15°","x":2.469,"y":0.02},{"p":3,"s":"15°","x":2.4697,"y":0.05},{"p":3,"s":"15°","x":2.47,"y":0.04},{"p":3,"s":"15°","x":2.4705,"y":0.07},{"p":3,"s":"15°","x":2.471,"y":0.12},{"p":3,"s":"15°","x":2.4713,"y":0.15},{"p":3,"s":"15°","x":2.4719,"y":0.18},{"p":3,"s":"15°","x":2.4722,"y":0.39},{"p":3,"s":"15°","x":2.4724,"y":0.52},{"p":3,"s":"15°","x":2.4725,"y":0.76},{"p":3,"s":"15°","x":2.47319,"y":1.66},{"p":3,"s":"15°","x":2.47377,"y":2.32},{"p":3,"s":"15°","x":2.47407,"y":2.48},{"p":3,"s":"15°","x":2.47434,"y":2.35},{"p":3,"s":"15°","x":2.47454,"y":2.19},{"p":3,"s":"15°","x":2.47481,"y":1.95},{"p":3,"s":"15°","x":2.47512,"y":1.71},{"p":3,"s":"15°","x":2.4755,"y":1.55},{"p":3,"s":"15°","x":2.47589,"y":1.47},{"p":3,"s":"15°","x":2.4762,"y":1.4},{"p":3,"s":"15°","x":2.47647,"y":1.49},{"p":3,"s":"15°","x":2.47674,"y":1.45},{"p":3,"s":"15°","x":2.47697,"y":1.29},{"p":3,"s":"15°","x":2.47724,"y":0.99},{"p":3,"s":"15°","x":2.47762,"y":0.95},{"p":3,"s":"15°","x":2.47801,"y":0.89},{"p":3,"s":"15°","x":2.47859,"y":0.93},{"p":3,"s":"15°","x":2.47897,"y":0.87},{"p":3,"s":"15°","x":2.47936,"y":0.97},{"p":3,"s":"15°","x":2.47994,"y":1.03},{"p":3,"s":"15°","x":2.48052,"y":1.1},{"p":3,"s":"15°","x":2.48109,"y":1.13},{"p":3,"s":"15°","x":2.48167,"y":1.19},{"p":3,"s":"15°","x":2.48225,"y":1.25},{"p":3,"s":"15°","x":2.48283,"y":1.21},{"p":3,"s":"15°","x":2.4834,"y":1.15},{"p":3,"s":"15°","x":2.48398,"y":1.1},{"p":3,"s":"15°","x":2.48475,"y":1.03},{"p":3,"s":"15°","x":2.48553,"y":1.05},{"p":3,"s":"15°","x":2.4863,"y":0.99},{"p":3,"s":"15°","x":2.48707,"y":1.03},{"p":3,"s":"15°","x":2.48784,"y":0.99},{"p":3,"s":"15°","x":2.48862,"y":1.02},{"p":3,"s":"15°","x":2.48939,"y":0.98},{"p":3,"s":"15°","x":2.49016,"y":1.01},{"p":3,"s":"15°","x":2.49093,"y":0.97},{"p":3,"s":"15°","x":2.4917,"y":0.99},{"p":3,"s":"15°","x":2.49248,"y":0.94},{"p":3,"s":"15°","x":2.49325,"y":0.98},{"p":3,"s":"15°","x":2.49402,"y":0.96},{"p":3,"s":"15°","x":2.49479,"y":0.99},{"p":3,"s":"15°","x":2.49557,"y":0.94},{"p":3,"s":"15°","x":2.49634,"y":0.92},{"p":3,"s":"15°","x":2.49672,"y":0.85},{"p":3,"s":"15°","x":2.49749,"y":0.93},{"p":3,"s":"15°","x":2.49827,"y":0.89},{"p":3,"s":"15°","x":2.49904,"y":0.91},{"p":3,"s":"15°","x":2.5,"y":0.89}
]},
"spacing":12,
"bounds":"flush",
"resolve":{"legend":{"color":"independent"}},
"hconcat":[
{
 "width":345,"height":454,
 "title":{"text":"Si-PCPDTBT/PCBM 3:1","dx":12,"offset":-7},
 "layer":[
  {"data":{"name":"d"},"transform":[{"filter":"datum.p == 1"}],
   "mark":{"type":"line","strokeWidth":1.6,"clip":true},
   "encoding":{
    "x":{"field":"x","type":"quantitative","scale":{"domain":[2.46,2.4989],"nice":false,"zero":false},
      "axis":{"orient":"bottom","values":[2.46,2.465,2.47,2.475,2.48,2.485,2.49,2.495],"labelExpr":"abs(datum.value*100-round(datum.value*100))>0.25?'':format(datum.value,'.2f')","tickSize":{"condition":{"test":"abs(datum.value*100-round(datum.value*100))>0.25","value":4},"value":8},"title":null}},
    "y":{"field":"y","type":"quantitative","scale":{"domain":[-0.1,3.5],"nice":false,"zero":false},
      "axis":{"orient":"left","values":[0,0.25,0.5,0.75,1,1.25,1.5,1.75,2,2.25,2.5,2.75,3,3.25,3.5],"labelExpr":"abs(datum.value*2-round(datum.value*2))>0.25?'':format(datum.value,'.1f')","tickSize":{"condition":{"test":"abs(datum.value*2-round(datum.value*2))>0.25","value":4},"value":8},"labelPadding":3,"title":"Intensität (willk. Einheit)","titlePadding":4}},
    "color":{"field":"s","type":"nominal","scale":{"domain":["70°","60°","40°","15°"],"range":["#0000ff","#00ee00","#800080","#ff0000"]},"legend":null}
   }},
  {"data":{"name":"refs"},"transform":[{"filter":"datum.p == 1"}],
   "mark":{"type":"rule","strokeDash":[5,4],"strokeWidth":1.3,"color":"black"},
   "encoding":{
    "x":{"field":"x1","type":"quantitative","axis":{"orient":"top","values":[2.46,2.465,2.47,2.475,2.48,2.485,2.49,2.495],"labels":false,"tickSize":-5,"title":null,"domain":false}},
    "x2":{"field":"x2"},
    "y":{"field":"y","type":"quantitative","axis":{"orient":"right","values":[0,0.25,0.5,0.75,1,1.25,1.5,1.75,2,2.25,2.5,2.75,3,3.25,3.5],"labels":false,"tickSize":-5,"title":null,"domain":false}}
   }},
  {"data":{"values":[{}]},"mark":{"type":"rect","color":"black"},
   "encoding":{"x":{"datum":2.46237,"type":"quantitative","axis":null},"x2":{"datum":2.47781},"y":{"datum":3.394,"type":"quantitative","axis":null},"y2":{"datum":3.082}}},
  {"data":{"values":[{}]},"mark":{"type":"rect","fill":"white","stroke":"black","strokeWidth":1.2},
   "encoding":{"x":{"datum":2.46161,"type":"quantitative","axis":null},"x2":{"datum":2.47706},"y":{"datum":3.452,"type":"quantitative","axis":null},"y2":{"datum":3.137}}},
  {"data":{"values":[{"t":"S K Kante"}]},"mark":{"type":"text","fontSize":24,"align":"center","baseline":"middle","color":"black"},
   "encoding":{"text":{"field":"t"},"x":{"datum":2.46933,"type":"quantitative","axis":null},"y":{"datum":3.294,"type":"quantitative","axis":null}}},
  {"data":{"values":[{"t":"T1"}]},"mark":{"type":"text","fontSize":22,"align":"left","baseline":"middle","color":"black"},
   "encoding":{"text":{"field":"t"},"x":{"datum":2.48029,"type":"quantitative","axis":null},"y":{"datum":2.817,"type":"quantitative","axis":null}}},
  {"data":{"values":[{}]},"mark":{"type":"rule","color":"black","strokeWidth":1.3},
   "encoding":{"x":{"datum":2.47917,"type":"quantitative","axis":null},"x2":{"datum":2.4756},"y":{"datum":2.852,"type":"quantitative","axis":null},"y2":{"datum":2.898}}},
  {"data":{"values":[{}]},"mark":{"type":"point","shape":"triangle-up","filled":true,"color":"black","size":45,"angle":282,"opacity":1},
   "encoding":{"x":{"datum":2.4757,"type":"quantitative","axis":null},"y":{"datum":2.897,"type":"quantitative","axis":null}}}
 ]
},
{
 "width":346,"height":454,
 "title":{"text":"Si-PCPDTBT/PCBM 1:1","dx":17},
 "layer":[
  {"data":{"name":"d"},"transform":[{"filter":"datum.p == 2"}],
   "mark":{"type":"line","strokeWidth":1.6,"clip":true},
   "encoding":{
    "x":{"field":"x","type":"quantitative","scale":{"domain":[2.46,2.49905],"nice":false,"zero":false},
      "axis":{"orient":"bottom","values":[2.46,2.465,2.47,2.475,2.48,2.485,2.49,2.495],"labelExpr":"abs(datum.value*100-round(datum.value*100))>0.25?'':format(datum.value,'.2f')","tickSize":{"condition":{"test":"abs(datum.value*100-round(datum.value*100))>0.25","value":4},"value":8},"title":"Photonenenergie (keV)","titleX":157,"titlePadding":4}},
    "y":{"field":"y","type":"quantitative","scale":{"domain":[-0.1,3.5],"nice":false,"zero":false},
      "axis":{"orient":"left","values":[0,0.25,0.5,0.75,1,1.25,1.5,1.75,2,2.25,2.5,2.75,3,3.25,3.5],"labels":false,"tickSize":-5,"title":null}},
    "color":{"field":"s","type":"nominal","scale":{"domain":["70°","60°","40°","15°"],"range":["#0000ff","#00ee00","#800080","#ff0000"]},"legend":null}
   }},
  {"data":{"name":"refs"},"transform":[{"filter":"datum.p == 2"}],
   "mark":{"type":"rule","strokeDash":[5,4],"strokeWidth":1.3,"color":"black"},
   "encoding":{
    "x":{"field":"x1","type":"quantitative","axis":{"orient":"top","values":[2.46,2.465,2.47,2.475,2.48,2.485,2.49,2.495],"labels":false,"tickSize":-5,"title":null,"domain":false}},
    "x2":{"field":"x2"},
    "y":{"field":"y","type":"quantitative","axis":{"orient":"right","values":[0,0.25,0.5,0.75,1,1.25,1.5,1.75,2,2.25,2.5,2.75,3,3.25,3.5],"labels":false,"tickSize":-5,"title":null,"domain":false}}
   }}
 ]
},
{
 "width":345,"height":454,
 "title":{"text":"Si-PCPDTBT/PCBM 1:3","dx":18},
 "layer":[
  {"data":{"name":"d"},"transform":[{"filter":"datum.p == 3"}],
   "mark":{"type":"line","strokeWidth":1.6,"clip":true},
   "encoding":{
    "x":{"field":"x","type":"quantitative","scale":{"domain":[2.46,2.5],"nice":false,"zero":false},
      "axis":{"orient":"bottom","values":[2.46,2.465,2.47,2.475,2.48,2.485,2.49,2.495,2.5],"labelExpr":"abs(datum.value*100-round(datum.value*100))>0.25?'':format(datum.value,'.2f')","tickSize":{"condition":{"test":"abs(datum.value*100-round(datum.value*100))>0.25","value":4},"value":8},"title":null}},
    "y":{"field":"y","type":"quantitative","scale":{"domain":[-0.1,3.5],"nice":false,"zero":false},
      "axis":{"orient":"left","values":[0,0.25,0.5,0.75,1,1.25,1.5,1.75,2,2.25,2.5,2.75,3,3.25,3.5],"labels":false,"tickSize":-5,"title":null}},
    "color":{"field":"s","type":"nominal","scale":{"domain":["70°","60°","40°","15°"],"range":["#0000ff","#00ee00","#800080","#ff0000"]},
      "legend":{"orient":"none","legendX":214,"legendY":148,"title":null,"symbolType":"stroke","symbolSize":1936,"symbolStrokeWidth":2,"labelFontSize":22,"labelColor":"black","labelOffset":5,"strokeColor":"black","fillColor":"white","padding":12,"clipHeight":23,"rowPadding":3}}
   }},
  {"data":{"name":"refs"},"transform":[{"filter":"datum.p == 3"}],
   "mark":{"type":"rule","strokeDash":[5,4],"strokeWidth":1.3,"color":"black"},
   "encoding":{
    "x":{"field":"x1","type":"quantitative","axis":{"orient":"top","values":[2.46,2.465,2.47,2.475,2.48,2.485,2.49,2.495,2.5],"labels":false,"tickSize":-5,"title":null,"domain":false}},
    "x2":{"field":"x2"},
    "y":{"field":"y","type":"quantitative","axis":{"orient":"right","values":[0,0.25,0.5,0.75,1,1.25,1.5,1.75,2,2.25,2.5,2.75,3,3.25,3.5],"labels":false,"tickSize":-5,"title":null,"domain":false}}
   }}
 ]
}
]
}
